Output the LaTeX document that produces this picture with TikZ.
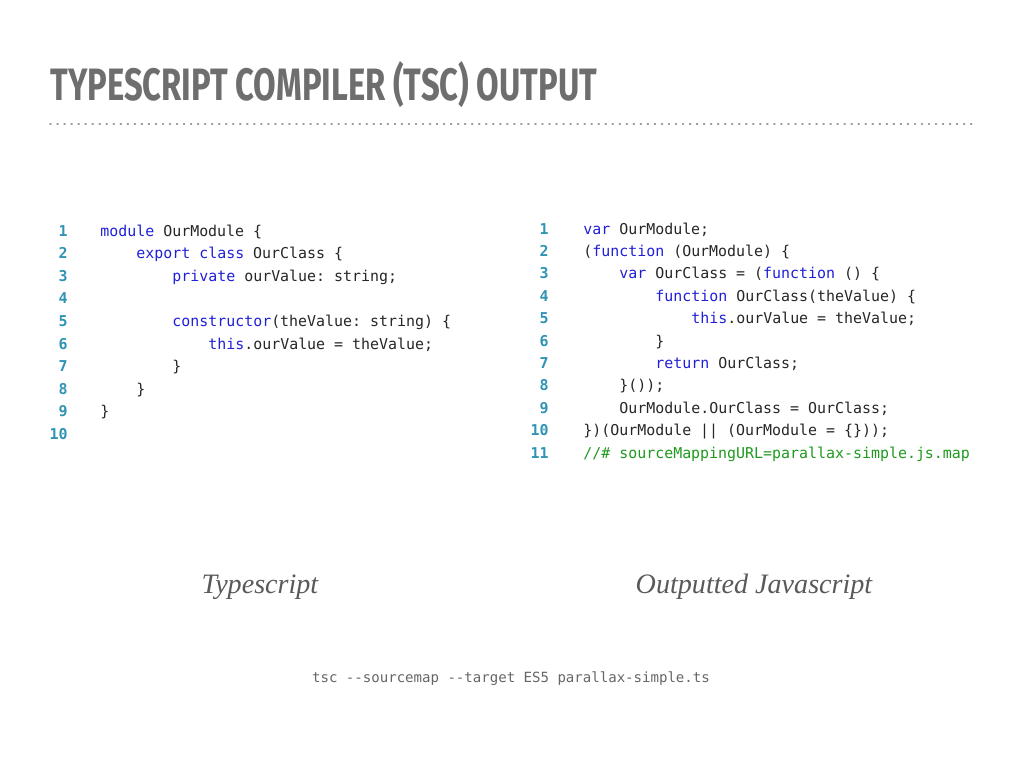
\documentclass[tikz,border=0pt]{standalone}
\usepackage{fontspec}
\setmainfont{Liberation Serif}
\setsansfont{Fira Sans}
\setmonofont{DejaVu Sans Mono}
\definecolor{lnum}{HTML}{2F93B5}
\definecolor{kw}{HTML}{2020D8}
\definecolor{cmt}{HTML}{1E9A1E}
\definecolor{titlegray}{HTML}{6E6E6E}
\newcommand{\kw}[1]{\textcolor{kw}{#1}}
\tikzset{
  code/.style={anchor=base west, inner sep=0pt, font=\ttfamily\fontsize{8.5}{10}\selectfont, text=black!85},
  lineno/.style={anchor=base east, inner sep=0pt, font=\ttfamily\bfseries\fontsize{8.5}{10}\selectfont, text=lnum},
  caption/.style={inner sep=0pt, font=\itshape\fontsize{16}{18}\selectfont, text=black!65},
}
\begin{document}
\begin{tikzpicture}[x=0.02cm,y=-0.02cm]
  \useasboundingbox (0,0) rectangle (1024,768);
  % title
  \node[anchor=south west, inner sep=0pt, text=titlegray] (title) at (50,108)
    {\resizebox{10.94cm}{0.78cm}{\sffamily\bfseries TYPESCRIPT COMPILER (TSC) OUTPUT}};
  \draw[titlegray!70, line width=0.8pt, dash pattern=on 0.6pt off 3.4pt, line cap=round]
    (50,124) -- (975,124);
  % typescript side
  \foreach \n/\ind/\txt in {
      1/0/{\kw{module} OurModule \{},
      2/1/{\kw{export} \kw{class} OurClass \{},
      3/2/{\kw{private} ourValue: string;},
      4/0/{},
      5/2/{\kw{constructor}(theValue: string) \{},
      6/3/{\kw{this}.ourValue = theValue;},
      7/2/{\}},
      8/1/{\}},
      9/0/{\}},
      10/0/{}} {
    \node[lineno] (tsn\n) at (68,{236+22.6*(\n-1)}) {\n};
    \node[code] (ts\n) at ({100+36*\ind},{236+22.6*(\n-1)}) {\txt};
  }
  % javascript side
  \foreach \n/\ind/\txt in {
      1/0/{\kw{var} OurModule;},
      2/0/{(\kw{function} (OurModule) \{},
      3/1/{\kw{var} OurClass = (\kw{function} () \{},
      4/2/{\kw{function} OurClass(theValue) \{},
      5/3/{\kw{this}.ourValue = theValue;},
      6/2/{\}},
      7/2/{\kw{return} OurClass;},
      8/1/{\}());},
      9/1/{OurModule.OurClass = OurClass;},
      10/0/{\})(OurModule || (OurModule = \{\}));},
      11/0/{\textcolor{cmt}{//\# sourceMappingURL=parallax-simple.js.map}}} {
    \node[lineno] (jsn\n) at (549,{234+22.4*(\n-1)}) {\n};
    \node[code] (js\n) at ({583+36*\ind},{234+22.4*(\n-1)}) {\txt};
  }
  % captions
  \node[caption] (tscap) at (260,587) {Typescript};
  \node[caption] (jscap) at (754,587) {Outputted Javascript};
  \node[code, anchor=base, text=black!60, font=\ttfamily\fontsize{8}{10}\selectfont] (cmd) at (511,682)
    {tsc --sourcemap --target ES5 parallax-simple.ts};
\end{tikzpicture}
\end{document}
